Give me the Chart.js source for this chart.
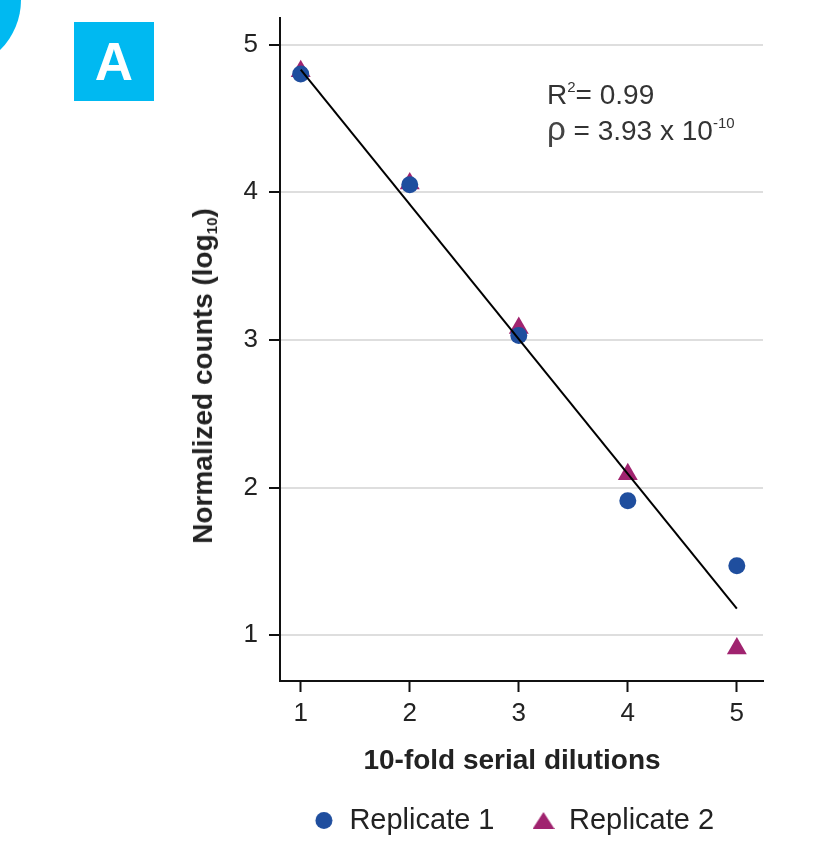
<!DOCTYPE html>
<html>
<head>
<meta charset="utf-8">
<script src="https://cdn.jsdelivr.net/npm/chart.js@4"></script>
<style>
    body { margin: 0; background: #fff; }
    #wrap { position: relative; width: 823px; height: 845px; overflow: hidden; font-family: "Liberation Sans", Arial, sans-serif; }
    #corner { position: absolute; left: -119px; top: -70px; width: 140px; height: 140px; border-radius: 50%; background: #00b9f1; }
    #panel { position: absolute; left: 74px; top: 22px; width: 80px; height: 79px; background: #00b9f1;
             color: #fff; font-weight: bold; font-size: 53px; text-align: center; line-height: 79px; }
    .note { position: absolute; left: 547px; color: #333; font-size: 28px; line-height: 32px; white-space: nowrap; }
    .note sup { font-size: 15px; vertical-align: 12px; line-height: 0; }
    .rho { font-size: 33px; line-height: 0; color: #444; }
    .axis-title { position: absolute; transform: translate(-50%, -50%); white-space: nowrap;
                  color: #222; font-weight: bold; font-size: 28px; line-height: 32px; }
    #ytitle { left: 203px; top: 376px; transform: translate(-50%, -50%) rotate(-90deg); }
    #xtitle { left: 512px; top: 760px; }
    #ytitle sub { font-size: 15px; vertical-align: -5px; line-height: 0; }
</style>
</head>
<body>
<div id="wrap">
    <canvas id="dilutionChart" width="823" height="845"></canvas>
    <div id="corner"></div>
    <div id="panel">A</div>
    <div class="note" style="top:79px;">R<sup>2</sup>= 0.99</div>
    <div class="note" style="top:115px;"><span class="rho">ρ</span> = 3.93 x 10<sup>-10</sup></div>
    <div class="axis-title" id="ytitle">Normalized counts (log<sub>10</sub>)</div>
    <div class="axis-title" id="xtitle">10-fold serial dilutions</div>
</div>
<script>
// Data
const dilutions = [1, 2, 3, 4, 5];
const replicate1 = [4.80, 4.05, 3.03, 1.91, 1.47];
const replicate2 = [4.82, 4.06, 3.08, 2.09, 0.91];
const fitX = [1, 5];
const fitY = [4.83, 1.18];
const xTicks = [1, 2, 3, 4, 5];
const yTicks = [1, 2, 3, 4, 5];

const fontFamily = '"Liberation Sans", Arial, sans-serif';
const blue = '#1f4e9e';
const magenta = '#a0236f';

function toPoints(xs, ys) {
    return xs.map((x, i) => ({ x: x, y: ys[i] }));
}

// small legend symbols, the built-in legend triangle is too small
function legendMarker(shape, color) {
    const c = document.createElement('canvas');
    c.width = 22;
    c.height = 19;
    const g = c.getContext('2d');
    g.fillStyle = color;
    g.beginPath();
    if (shape === 'circle') {
        g.arc(11, 9.5, 8.5, 0, Math.PI * 2);
    } else {
        g.moveTo(11, 1);
        g.lineTo(22, 18);
        g.lineTo(0, 18);
        g.closePath();
    }
    g.fill();
    return c;
}

// centre the legend under the plot area rather than the whole canvas
const legendShift = {
    id: 'legendShift',
    afterLayout(chart) {
        const area = chart.chartArea;
        chart.legend.left = area.left - 16;
        chart.legend.right = area.right;
    }
};

document.addEventListener('DOMContentLoaded', function() {
    const ctx = document.getElementById('dilutionChart').getContext('2d');
    const markers = [legendMarker('circle', blue), legendMarker('triangle', magenta)];

    new Chart(ctx, {
        type: 'scatter',
        data: {
            datasets: [{
                label: 'Replicate 1',
                data: toPoints(dilutions, replicate1),
                pointStyle: 'circle',
                pointRadius: 8.5,
                backgroundColor: blue,
                borderColor: blue,
                borderWidth: 0,
                order: 1
            }, {
                label: 'Replicate 2',
                data: toPoints(dilutions, replicate2),
                pointStyle: 'triangle',
                pointRadius: 11.5,
                backgroundColor: magenta,
                borderColor: magenta,
                borderWidth: 0,
                order: 2
            }, {
                label: 'fit',
                data: toPoints(fitX, fitY),
                showLine: true,
                pointRadius: 0,
                borderColor: '#000',
                borderWidth: 2,
                order: 0
            }]
        },
        options: {
            responsive: false,
            animation: false,
            devicePixelRatio: 1,
            layout: {
                padding: { left: 180, right: 60, top: 18, bottom: 0 }
            },
            scales: {
                x: {
                    type: 'linear',
                    min: 0.81,
                    max: 5.24,
                    afterBuildTicks: scale => { scale.ticks = xTicks.map(v => ({ value: v })); },
                    afterFit: scale => {
                        scale.height = 87;
                        scale.paddingLeft = 0;
                        scale.paddingRight = 0;
                    },
                    border: { color: '#111', width: 2 },
                    grid: {
                        drawOnChartArea: false,
                        tickColor: '#111',
                        tickWidth: 2,
                        tickLength: 11
                    },
                    ticks: {
                        color: '#222',
                        padding: 6,
                        font: { family: fontFamily, size: 26 }
                    }
                },
                y: {
                    min: 0.69,
                    max: 5.18,
                    afterBuildTicks: scale => { scale.ticks = yTicks.map(v => ({ value: v })); },
                    afterFit: scale => {
                        scale.width = 100;
                        scale.paddingTop = 0;
                        scale.paddingBottom = 0;
                    },
                    border: { color: '#111', width: 2 },
                    grid: {
                        color: '#dedede',
                        lineWidth: 2,
                        tickColor: '#111',
                        tickWidth: 2,
                        tickLength: 11
                    },
                    ticks: {
                        color: '#222',
                        padding: 11,
                        font: { family: fontFamily, size: 26 }
                    }
                }
            },
            plugins: {
                legend: {
                    position: 'bottom',
                    labels: {
                        usePointStyle: true,
                        pointStyleWidth: 22,
                        padding: 38,
                        color: '#222',
                        font: { family: fontFamily, size: 29 },
                        generateLabels: chart => Chart.defaults.plugins.legend.labels.generateLabels(chart)
                            .filter(item => item.text !== 'fit')
                            .map((item, i) => Object.assign(item, { pointStyle: markers[i] }))
                    }
                },
                tooltip: { enabled: false }
            }
        },
        plugins: [legendShift]
    });
});
</script>
</body>
</html>
